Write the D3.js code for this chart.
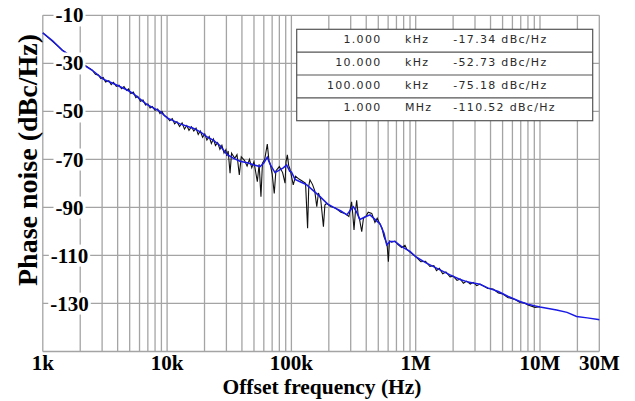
<!DOCTYPE html>
<html>
<head>
<meta charset="utf-8">
<script src="https://cdn.jsdelivr.net/npm/d3@7"></script>
<style>
  body { margin: 0; background: #fff; }
  svg { display: block; }
  .grid line { stroke: #a4a4a4; stroke-width: 1.3; }
  .ylab, .xlab, .title { font-family: "Liberation Serif", "Times New Roman", serif; font-weight: bold; fill: #000; }
  .tab text { font-family: "DejaVu Sans", Verdana, sans-serif; font-size: 11px; fill: #2a2a2a; letter-spacing: 1.3px; }
</style>
</head>
<body>
<script>
// smoothed trace (blue), offset frequency in Hz / phase noise in dBc/Hz
var blueFreq = [1000, 1200, 1430, 1700, 2000, 2500, 3060, 3690, 4730, 5350, 6850, 8760, 10000,
  12700, 16200, 18500, 20800, 23500, 26600, 30200, 34000, 38600, 45000, 50000, 55900, 60000,
  64000, 67300, 73800, 80000, 86000, 91600, 97000, 100000, 107000, 120000, 133000, 150000,
  170000, 195000, 217000, 250000, 279000, 300000, 315000, 335000, 356000, 390000, 429000,
  470000, 517000, 556000, 585000, 621000, 681000, 771000, 899000, 1000000, 1200000, 1470000,
  1890000, 2280000, 2570000, 2900000, 3290000, 3800000, 4620000, 5500000, 6900000, 8000000,
  9120000, 10000000, 13600000, 16500000, 19700000, 24000000, 29400000, 30000000];
var blueNoise = [-17.3, -20.6, -24.5, -27.3, -29.8, -32.9, -36.6, -38.4, -41.0, -42.6, -47.1, -50.0, -52.7,
  -55.2, -57.0, -58.5, -60.5, -62.0, -64.2, -67.8, -69.5, -70.8, -71.5, -72.3, -73.0, -71.5,
  -69.1, -72.0, -75.5, -74.5, -73.5, -72.3, -75.0, -75.2, -78.3, -79.5, -80.6, -83.0,
  -85.5, -88.5, -89.9, -91.5, -93.1, -91.0, -89.7, -92.0, -95.0, -94.0, -93.1,
  -95.0, -96.9, -100.8, -105.6, -104.2, -104.2, -106.3, -108.3, -110.5, -113.0, -115.3,
  -118.1, -120.0, -120.9, -121.5, -122.0, -123.5, -125.0, -127.0, -129.2, -130.3,
  -131.0, -131.5, -132.7, -133.7, -135.4, -136.0, -136.7, -136.8];

// raw trace (black), jitters round the smoothed one and spikes in the middle decades
var blackFreq = [1000, 1430, 2500, 2650, 2800, 2930, 3060, 3200, 3400, 3550, 3700, 3900, 4100, 4300,
  4500, 4730, 4900, 5100, 5350, 5600, 5800, 6100, 6400, 6700, 7000, 7300, 7600, 8000, 8400,
  8760, 9100, 9500, 10000, 10500, 11000, 11500, 12000, 12600, 13200, 13800, 14400, 15000,
  15700, 16400, 17100, 17800, 18500, 19300, 20100, 20900, 21800, 22700, 23600, 24500, 25500,
  26600, 27600, 28700, 29700, 30200, 31000, 32100, 33000, 35000, 36500, 38100, 39500,
  42000, 44000, 46000, 48000, 50000, 53200, 55000, 56900, 58500, 61000, 64000, 66000, 67300,
  70000, 72800, 75000, 80000, 85000, 88900, 90500, 92800, 95000, 97500, 103500, 108000,
  115000, 122000, 130000, 135000, 138000, 141000, 148000, 154000, 160000, 165000, 172000,
  181000, 186000, 192000, 205000, 225000, 250000, 270000, 290000, 305000, 312000, 319000,
  327000, 335000, 345000, 355000, 368000, 380000, 400000, 415000, 443000, 470000, 490000,
  516000, 535000, 556000, 575000, 590000, 603000, 615000, 640000, 681000, 720000, 771000,
  820000, 850000, 899000, 1000000, 1100000, 1200000, 1300000, 1400000, 1470000, 1550000,
  1650000, 1750000, 1890000, 2000000, 2150000, 2280000, 2420000, 2570000, 2750000, 2900000,
  3100000, 3290000, 3800000, 4200000, 4620000, 5000000, 5500000, 6200000, 6900000, 7500000,
  8000000, 9120000, 10000000];
var blackNoise = [-17.3, -24.4, -32.8, -34.6, -34.9, -36.3, -35.9, -37.8, -37.2, -38.9, -37.9, -39.6, -39.1, -40.6,
  -39.7, -41.3, -40.6, -42.6, -42.0, -44.3, -43.7, -45.8, -45.3, -47.4, -46.9, -48.6, -48.0, -49.6, -49.0,
  -50.9, -50.0, -51.8, -52.4, -53.9, -53.0, -55.2, -54.3, -56.3, -54.8, -57.4, -55.9, -57.9,
  -56.4, -58.2, -57.0, -59.6, -58.2, -60.8, -59.4, -61.9, -60.5, -63.4, -61.5, -64.2, -63.0,
  -65.8, -64.1, -67.4, -66.0, -68.6, -66.5, -75.8, -67.4, -69.5, -68.0, -76.5, -68.9,
  -70.5, -72.8, -70.0, -73.5, -71.0, -79.3, -72.0, -85.5, -71.6, -70.0, -63.6, -70.5, -71.6,
  -76.0, -84.2, -74.8, -73.0, -75.5, -79.9, -71.0, -68.1, -72.5, -74.1, -80.6, -77.0,
  -78.2, -79.0, -80.0, -98.7, -81.0, -78.5, -80.5, -83.0, -89.7, -84.0, -86.5,
  -98.0, -89.0, -88.3, -89.5, -90.2, -92.0, -92.5, -93.8, -87.7, -93.0, -99.4,
  -92.0, -87.0, -93.5, -95.5, -100.1, -94.5, -93.5, -92.0, -92.5, -96.2, -94.5,
  -97.0, -98.5, -102.2, -104.0, -106.0, -112.6, -104.0, -104.5, -104.0, -105.5, -106.7,
  -105.8, -107.5, -108.6, -110.5, -112.6, -112.4, -114.6, -114.2, -116.3, -115.4,
  -117.6, -116.9, -118.9, -118.6, -120.4, -119.8, -121.6, -120.7, -121.9, -121.2,
  -122.6, -121.9, -123.8, -124.0, -125.6, -126.0, -127.5, -128.2, -129.6, -129.8,
  -130.6, -131.6, -131.3];

var xTickValues = [1e3, 1e4, 1e5, 1e6, 1e7, 3e7],
    xTickLabels = ["1k", "10k", "100k", "1M", "10M", "30M"];
var yTickValues = [-10, -30, -50, -70, -90, -110, -130];

// marker table in the upper right
var tabFreq = ["1.000", "10.000", "100.000", "1.000"],
    tabUnit = ["kHz", "kHz", "kHz", "MHz"],
    tabNoise = ["-17.34", "-52.73", "-75.18", "-110.52"];

var width = 635, height = 401,
    plot = {left: 42.8, right: 599.3, top: 15.3, bottom: 351.5};

var x = d3.scaleLog().domain([1e3, 3e7]).range([plot.left, plot.right]),
    y = d3.scaleLinear().domain([-150, -10]).range([plot.bottom, plot.top]);

var svg = d3.select("body").append("svg")
    .attr("width", width)
    .attr("height", height);

svg.append("rect").attr("width", width).attr("height", height).attr("fill", "#fff");

// grid: every log tick vertically, every 20 dB horizontally
var grid = svg.append("g").attr("class", "grid");
grid.selectAll(".vx")
    .data(x.ticks())
  .enter().append("line")
    .attr("x1", function(d) { return x(d); })
    .attr("x2", function(d) { return x(d); })
    .attr("y1", y(-10))
    .attr("y2", y(-150));
grid.selectAll(".hy")
    .data(d3.range(-150, -9, 20))
  .enter().append("line")
    .attr("x1", x(1e3))
    .attr("x2", x(3e7))
    .attr("y1", function(d) { return y(d); })
    .attr("y2", function(d) { return y(d); });

var line = d3.line()
    .x(function(d) { return x(d[0]); })
    .y(function(d) { return y(d[1]); });

svg.append("path")
    .datum(d3.zip(blackFreq, blackNoise))
    .attr("d", line)
    .attr("fill", "none")
    .attr("stroke", "#111")
    .attr("stroke-width", 1.1);

svg.append("path")
    .datum(d3.zip(blueFreq, blueNoise))
    .attr("d", line)
    .attr("fill", "none")
    .attr("stroke", "#1a1ae6")
    .attr("stroke-width", 1.5);

// y tick labels sit inside the plot on white boxes
var yl = svg.selectAll(".ylab")
    .data(yTickValues)
  .enter().append("g")
    .attr("transform", function(d) { return "translate(69.5," + y(d) + ")"; });
yl.append("text")
    .attr("class", "ylab")
    .attr("text-anchor", "middle")
    .attr("dy", "0.34em")
    .style("font-size", "21px")
    .text(function(d) { return d; });
yl.each(function() {
  var b = d3.select(this).select("text").node().getBBox();
  d3.select(this).insert("rect", "text")
      .attr("x", b.x - 2).attr("y", b.y + 1)
      .attr("width", b.width + 4).attr("height", b.height - 2)
      .attr("fill", "#fff");
});

svg.selectAll(".xlab")
    .data(xTickValues)
  .enter().append("text")
    .attr("class", "xlab")
    .attr("x", function(d) { return x(d); })
    .attr("y", 369.5)
    .attr("text-anchor", "middle")
    .style("font-size", "21px")
    .text(function(d, i) { return xTickLabels[i]; });

svg.append("text")
    .attr("class", "title")
    .attr("x", 322)
    .attr("y", 393.5)
    .attr("text-anchor", "middle")
    .style("font-size", "21.5px")
    .text("Offset frequency (Hz)");

svg.append("text")
    .attr("class", "title")
    .attr("transform", "translate(37,160)rotate(-90)")
    .attr("text-anchor", "middle")
    .style("font-size", "28px")
    .text("Phase noise (dBc/Hz)");

// marker table
var tab = {x: 296.7, y: 29.3, w: 296, rowH: 22.85};
var tg = svg.append("g").attr("class", "tab");
tg.append("rect")
    .attr("x", tab.x).attr("y", tab.y)
    .attr("width", tab.w).attr("height", tab.rowH * tabFreq.length)
    .attr("fill", "#fff")
    .attr("stroke", "#555")
    .attr("stroke-width", 1.2);
var rows = tg.selectAll(".row")
    .data(tabFreq)
  .enter().append("g")
    .attr("transform", function(d, i) { return "translate(0," + (tab.y + i * tab.rowH) + ")"; });
rows.filter(function(d, i) { return i > 0; }).append("line")
    .attr("x1", tab.x).attr("x2", tab.x + tab.w)
    .attr("stroke", "#555").attr("stroke-width", 1.1);
rows.append("text")
    .attr("x", 381.5).attr("y", 13.6)
    .attr("text-anchor", "end")
    .text(function(d) { return d; });
rows.append("text")
    .attr("x", 405).attr("y", 13.6)
    .text(function(d, i) { return tabUnit[i]; });
rows.append("text")
    .attr("x", 453.3).attr("y", 13.6)
    .text(function(d, i) { return tabNoise[i] + " dBc/Hz"; });
</script>
</body>
</html>
